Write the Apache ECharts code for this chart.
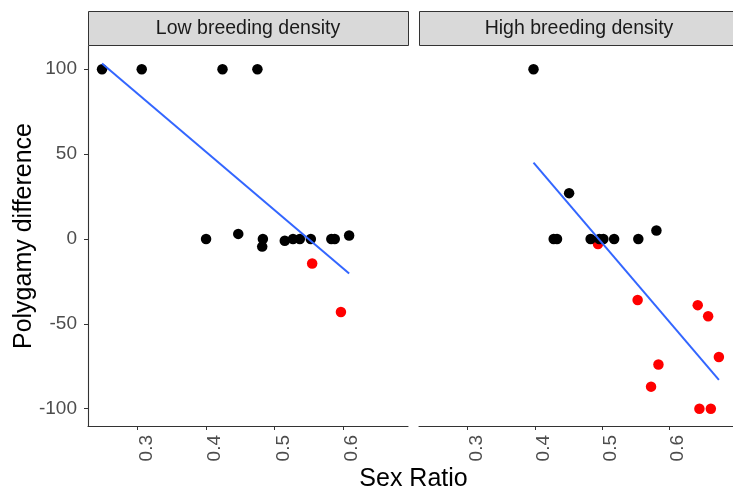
<!DOCTYPE html>
<html>
<head>
<meta charset="utf-8">
<title>Polygamy difference by sex ratio</title>
<script src="https://cdn.jsdelivr.net/npm/echarts@6/dist/echarts.min.js"></script>
<style>
  html, body { margin: 0; padding: 0; background: #fff; }
  #chart { width: 733px; height: 493px; }
</style>
</head>
<body>
<div id="chart"></div>
<script>
// Panel titles
const panels = ['Low breeding density', 'High breeding density'];

// Axis tick labels
const xTicks = [0.3, 0.4, 0.5, 0.6];
const yTicks = [-100, -50, 0, 50, 100];

// Low breeding density: [sex ratio, polygamy difference]
const lowBlack = [
  [0.248, 100], [0.306, 100], [0.424, 100], [0.475, 100],
  [0.400, 0], [0.447, 3], [0.483, 0], [0.482, -4.5],
  [0.515, -1], [0.527, 0], [0.537, 0], [0.553, 0],
  [0.583, 0], [0.588, 0], [0.609, 2]
];
const lowRed = [[0.555, -14.5], [0.597, -43]];
const lowFit = [[0.248, 103.4], [0.609, -20.4]];

// High breeding density
const highBlack = [
  [0.398, 100], [0.451, 27], [0.428, 0], [0.433, 0],
  [0.483, 0], [0.496, 0], [0.502, 0], [0.518, 0],
  [0.554, 0], [0.581, 5]
];
const highRed = [
  [0.494, -3], [0.553, -36], [0.584, -74], [0.573, -87],
  [0.6425, -39], [0.658, -45.5], [0.674, -69.5],
  [0.645, -100], [0.662, -100]
];
const highFit = [[0.398, 45], [0.674, -83]];

// Layout of the two facets
const FONT = '"Liberation Sans", Arial, sans-serif';
const TOP = 46, HEIGHT = 380;
const LEFTS = [88, 419], WIDTH = 320;
const STRIP_H = 35;
const X_MIN = 0.2275, X_MAX = 0.695;
const Y_MIN = -110.2, Y_MAX = 113.7;

const axisGrey = '#333333';
const labelGrey = '#4D4D4D';

function xAxisFor(i) {
  return {
    type: 'value', gridIndex: i, min: X_MIN, max: X_MAX,
    axisLine: { show: true, onZero: false, lineStyle: { color: axisGrey, width: 1.1 } },
    axisTick: { show: true, length: 4, lineStyle: { color: axisGrey }, customValues: xTicks },
    axisLabel: {
      show: true, rotate: 90, margin: 9, color: labelGrey,
      fontFamily: FONT, fontSize: 19,
      // rotated labels sit just to the right of their tick
      verticalAlign: 'top', lineHeight: 18,
      customValues: xTicks, formatter: v => v.toFixed(1)
    },
    splitLine: { show: false }
  };
}

function yAxisFor(i) {
  const visible = i === 0;
  return {
    type: 'value', gridIndex: i, min: Y_MIN, max: Y_MAX,
    axisLine: { show: visible, onZero: false, lineStyle: { color: axisGrey, width: 1.1 } },
    axisTick: { show: visible, length: 4, lineStyle: { color: axisGrey }, customValues: yTicks },
    axisLabel: {
      show: visible, margin: 11, color: labelGrey,
      fontFamily: FONT, fontSize: 19, customValues: yTicks
    },
    splitLine: { show: false }
  };
}

function pointSeries(i, data, color) {
  return {
    type: 'scatter', xAxisIndex: i, yAxisIndex: i, data: data,
    symbol: 'circle', symbolSize: 10.5,
    itemStyle: { color: color, opacity: 1 },
    emphasis: { disabled: true }, silent: true
  };
}

function fitSeries(i, data) {
  return {
    type: 'line', xAxisIndex: i, yAxisIndex: i, data: data,
    showSymbol: false, symbol: 'none',
    lineStyle: { color: '#3366FF', width: 2 },
    emphasis: { disabled: true }, silent: true
  };
}

// Facet strips and axis titles
const graphics = [];
panels.forEach((name, i) => {
  graphics.push({
    type: 'rect',
    shape: { x: LEFTS[i] + 0.5, y: TOP - STRIP_H + 0.5, width: WIDTH, height: STRIP_H - 1 },
    style: { fill: '#D9D9D9', stroke: axisGrey, lineWidth: 1 },
    silent: true
  });
  graphics.push({
    type: 'text',
    x: LEFTS[i] + WIDTH / 2, y: TOP - STRIP_H / 2,
    style: {
      text: name, font: '19.5px ' + FONT, fill: '#1A1A1A',
      textAlign: 'center', textVerticalAlign: 'middle'
    },
    silent: true
  });
});
graphics.push({
  type: 'text',
  x: (LEFTS[0] + LEFTS[1] + WIDTH) / 2, y: 479,
  style: {
    text: 'Sex Ratio', font: '25px ' + FONT, fill: '#000000',
    textAlign: 'center', textVerticalAlign: 'middle'
  },
  silent: true
});
graphics.push({
  type: 'text',
  x: 24, y: TOP + HEIGHT / 2,
  rotation: Math.PI / 2,
  style: {
    text: 'Polygamy difference', font: '25px ' + FONT, fill: '#000000',
    textAlign: 'center', textVerticalAlign: 'middle'
  },
  silent: true
});

const chart = echarts.init(document.getElementById('chart'), null, { renderer: 'canvas' });
chart.setOption({
  animation: false,
  backgroundColor: '#ffffff',
  grid: LEFTS.map(l => ({ left: l, top: TOP, width: WIDTH, height: HEIGHT, containLabel: false })),
  xAxis: [xAxisFor(0), xAxisFor(1)],
  yAxis: [yAxisFor(0), yAxisFor(1)],
  series: [
    pointSeries(0, lowRed, '#FF0000'),
    pointSeries(0, lowBlack, '#000000'),
    fitSeries(0, lowFit),
    pointSeries(1, highRed, '#FF0000'),
    pointSeries(1, highBlack, '#000000'),
    fitSeries(1, highFit)
  ],
  graphic: graphics
});
</script>
</body>
</html>
